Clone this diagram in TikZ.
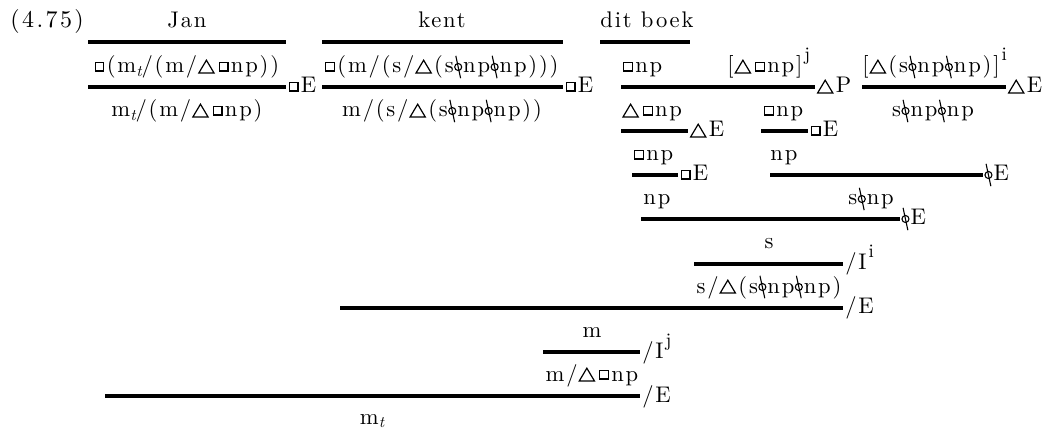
\documentclass[tikz,border=0pt]{standalone}
\usepackage{fontspec}
\setmainfont{lmroman10-regular.otf}[ItalicFont=lmroman10-italic.otf, BoldFont=lmroman10-bold.otf]
\newcommand{\bx}{\hspace{0.8pt}\tikz[baseline=0pt]\draw[line width=0.55pt] (0pt,1pt) rectangle (4.4pt,5.4pt);\hspace{1.2pt}}
\newcommand{\tri}{\hspace{0.5pt}\tikz[baseline=0pt]\draw[line width=0.6pt,line join=miter] (0pt,0pt) -- (7.6pt,0pt) -- (3.8pt,6.4pt) -- cycle;\hspace{1.2pt}}
\newcommand{\wrp}{\hspace{0.2pt}\tikz[baseline=0pt]{\draw[line width=0.55pt] (2pt,3pt) circle (1.75pt); \draw[line width=0.55pt] (0.8pt,8.6pt) -- (3.2pt,-2.6pt);}\hspace{0.5pt}}
\newcommand{\sj}{\hspace{1pt}\raisebox{6pt}{\fontsize{9.5}{10}\selectfont j}}
\newcommand{\si}{\hspace{1pt}\raisebox{6pt}{\fontsize{9.5}{10}\selectfont i}}
\newcommand{\tsub}{\raisebox{-1.8pt}{\fontsize{8}{9}\selectfont\itshape t}}
\tikzset{
  f/.style={anchor=base, inner sep=0pt, font=\fontsize{11.3}{13}\selectfont\addfontfeature{LetterSpace=8}},
  fw/.style={f, anchor=base west},
  bar/.style={line width=1.7pt},
  lab/.style={anchor=base west, inner sep=0pt, xshift=0.3pt, yshift=-3pt, font=\fontsize{11.3}{13}\selectfont\addfontfeature{LetterSpace=8}}
}
\begin{document}
\begin{tikzpicture}[x=0.5pt, y=-0.5pt]
\useasboundingbox (0,0) rectangle (1045,433);
% row 0
\node[anchor=base west, inner sep=0pt, font=\fontsize{12}{14}\selectfont\addfontfeature{LetterSpace=10}] (num) at (10,28) {(4.75)};
\node[f] (jan) at (187,28) {Jan};
\node[f] (kent) at (442,28) {kent};
\node[fw] (dit) at (600,28) {dit boek};
% row 1
\node[f] (a1) at (186,73) {\bx(m\tsub/(m/\tri\bx np))};
\node[f] (k1) at (441,73) {\bx(m/(s/\tri(s\wrp np\wrp np)))};
\node[fw] (d1) at (621,73) {\bx np};
\node[fw] (h1) at (727,73) {[\tri\bx np]\sj};
\node[fw] (h2) at (862,73) {[\tri(s\wrp np\wrp np)]\si};
% row 2
\node[f] (a2) at (187,117) {m\tsub/(m/\tri\bx np)};
\node[f] (k2) at (442,117) {m/(s/\tri(s\wrp np\wrp np))};
\node[fw] (d2) at (621,117) {\tri\bx np};
\node[fw] (h3) at (762,117) {\bx np};
\node[f] (h4) at (933,117) {s\wrp np\wrp np};
% row 3
\node[fw] (d3) at (632,161) {\bx np};
\node[fw] (h5) at (770,161) {np};
% row 4
\node[fw] (d4) at (643,205) {np};
\node[fw] (h6) at (848,205) {s\wrp np};
% row 5-9
\node[f] (s1) at (769,249) {s};
\node[f] (s2) at (769,293) {s/\tri(s\wrp np\wrp np)};
\node[f] (m1) at (592,337) {m};
\node[f] (m2) at (592,381) {m/\tri\bx np};
\node[f] (mt) at (372,424) {m\tsub};
% bars
\coordinate (b1l) at (88,42);  \coordinate (b1r) at (286,42);
\coordinate (b2l) at (322,42); \coordinate (b2r) at (563,42);
\coordinate (b3l) at (600,42); \coordinate (b3r) at (690,42);
\coordinate (b4l) at (88,87);  \coordinate (b4r) at (286,87);
\coordinate (b5l) at (322,87); \coordinate (b5r) at (563,87);
\coordinate (b6l) at (621,87); \coordinate (b6r) at (815,87);
\coordinate (b7l) at (862,87); \coordinate (b7r) at (1006,87);
\coordinate (b8l) at (621,131); \coordinate (b8r) at (688,131);
\coordinate (b9l) at (761,131); \coordinate (b9r) at (808,131);
\coordinate (b10l) at (632,175); \coordinate (b10r) at (678,175);
\coordinate (b11l) at (770,175); \coordinate (b11r) at (983,175);
\coordinate (b12l) at (641,219); \coordinate (b12r) at (900,219);
\coordinate (b13l) at (694,264); \coordinate (b13r) at (843,264);
\coordinate (b14l) at (340,308); \coordinate (b14r) at (843,308);
\coordinate (b15l) at (543,352); \coordinate (b15r) at (640,352);
\coordinate (b16l) at (105,396); \coordinate (b16r) at (640,396);
\draw[bar] (b1l) -- (b1r);
\draw[bar] (b2l) -- (b2r);
\draw[bar] (b3l) -- (b3r);
\draw[bar] (b4l) -- (b4r) node[lab] (l4) {\bx E};
\draw[bar] (b5l) -- (b5r) node[lab] (l5) {\bx E};
\draw[bar] (b6l) -- (b6r) node[lab] (l6) {\tri P};
\draw[bar] (b7l) -- (b7r) node[lab] (l7) {\tri E};
\draw[bar] (b8l) -- (b8r) node[lab] (l8) {\tri E};
\draw[bar] (b9l) -- (b9r) node[lab] (l9) {\bx E};
\draw[bar] (b10l) -- (b10r) node[lab] (l10) {\bx E};
\draw[bar] (b11l) -- (b11r) node[lab] (l11) {\wrp E};
\draw[bar] (b12l) -- (b12r) node[lab] (l12) {\wrp E};
\draw[bar] (b13l) -- (b13r) node[lab] (l13) {/I\si};
\draw[bar] (b14l) -- (b14r) node[lab] (l14) {/E};
\draw[bar] (b15l) -- (b15r) node[lab] (l15) {/I\sj};
\draw[bar] (b16l) -- (b16r) node[lab] (l16) {/E};
\end{tikzpicture}
\end{document}
